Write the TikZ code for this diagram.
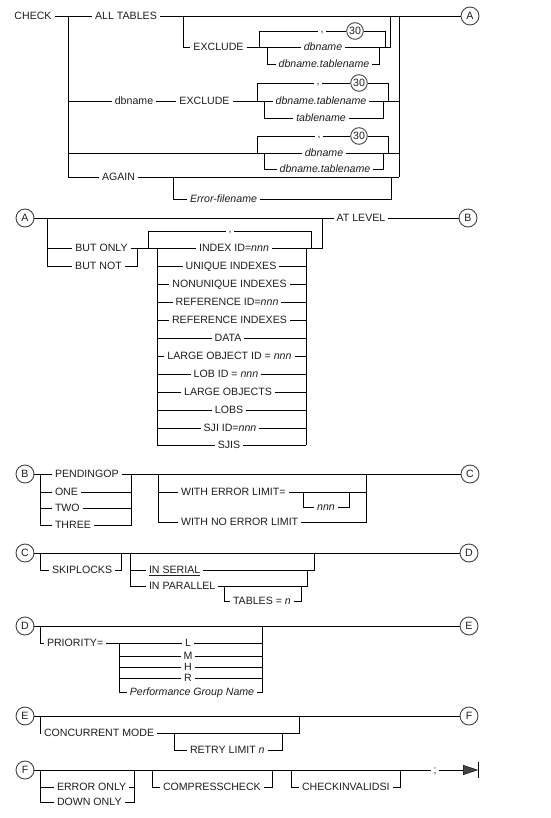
\documentclass[tikz,border=0pt]{standalone}
\usepackage{fontspec}
\setmainfont{Liberation Sans}
\usetikzlibrary{arrows.meta,backgrounds}
\definecolor{tc}{HTML}{1e1e1e}
\definecolor{lc}{HTML}{444444}
\newcommand\fsz{\fontsize{10.6}{12}\selectfont}
\begin{document}
\begin{tikzpicture}[x=1pt,y=-1pt,
  txt/.style={text=tc,font=\fsz,fill=white,inner xsep=3pt,inner ysep=2.5pt,outer sep=0pt,text height=7.6pt,text depth=0pt},
  txti/.style={txt,font=\fsz\itshape},
  commanode/.style={txt,anchor=base},
  lne/.style={draw=lc,line width=0.9pt},
  connc/.style={circle,draw=lc,line width=0.9pt,fill=white,text=tc,font=\fsz,minimum size=18pt,inner sep=0pt},
  repc/.style={connc,minimum size=16.6pt}]
\useasboundingbox (0,0) rectangle (550,818);
% ---------- section 1 ----------
\node[txt] (check) at (33,16) {CHECK};
\node[txt] (alltab) at (126,16) {ALL TABLES};
\node[connc] (cA1) at (470,16) {A};
\node[txt] (exc1) at (218.5,47) {EXCLUDE};
\node[commanode] (cm1) at (322,33) {,};
\node[repc] (r1) at (355,31) {30};
\node[txti] (dbn1) at (323,47) {dbname};
\node[txti] (dbt1) at (324,64) {dbname.tablename};
\node[txt] (dbn2) at (134,101) {dbname};
\node[txt] (exc2) at (204.5,101) {EXCLUDE};
\node[commanode] (cm2) at (318,85) {,};
\node[repc] (r2) at (359,83) {30};
\node[txti] (dbt2) at (321,101) {dbname.tablename};
\node[txti] (tbn2) at (321,118) {tablename};
\node[commanode] (cm3) at (319,138) {,};
\node[repc] (r3) at (359,136) {30};
\node[txti] (dbn3) at (324,153) {dbname};
\node[txti] (dbt3) at (325,169) {dbname.tablename};
\node[txt] (again) at (118.5,177) {AGAIN};
\node[txti] (errf) at (223.5,199) {Error-filename};
% ---------- section 2 ----------
\node[connc] (cA2) at (25,218) {A};
\node[txt] (atlev) at (361,218) {AT LEVEL};
\node[connc] (cB1) at (468,218) {B};
\node[txt] (bonly) at (101.5,248) {BUT ONLY};
\node[txt] (bnot) at (98.5,266) {BUT NOT};
\node[commanode] (cm4) at (230,233) {,};
\node[txt] (i1) at (234,248) {INDEX ID=\textit{nnn}};
\node[txt] (i2) at (231,266) {UNIQUE INDEXES};
\node[txt] (i3) at (229.5,284) {NONUNIQUE INDEXES};
\node[txt] (i4) at (227,302) {REFERENCE ID=\textit{nnn}};
\node[txt] (i5) at (229.5,320) {REFERENCE INDEXES};
\node[txt] (i6) at (228,338) {DATA};
\node[txt] (i7) at (229.5,356) {LARGE OBJECT ID = \textit{nnn}};
\node[txt] (i8) at (226,374) {LOB ID = \textit{nnn}};
\node[txt] (i9) at (228,392) {LARGE OBJECTS};
\node[txt] (i10) at (229,410) {LOBS};
\node[txt] (i11) at (230,428) {SJI ID=\textit{nnn}};
\node[txt] (i12) at (229,445) {SJIS};
\coordinate (Lx) at (157,0);
\coordinate (Rx) at (306,0);
% ---------- section 3 ----------
\node[connc] (cB2) at (25,474) {B};
\node[connc] (cC1) at (470,474) {C};
\node[txt,anchor=west] (pend) at (52,474) {PENDINGOP};
\node[txt,anchor=west] (one) at (52,492) {ONE};
\node[txt,anchor=west] (two) at (52,508) {TWO};
\node[txt,anchor=west] (three) at (52,525) {THREE};
\node[txt,anchor=west] (wel) at (178,492) {WITH ERROR LIMIT=};
\node[txt,anchor=west] (wnel) at (178,522) {WITH NO ERROR LIMIT};
\node[txti] (nnn) at (326,507) {nnn};
% ---------- section 4 ----------
\node[connc] (cC2) at (25,553) {C};
\node[connc] (cD1) at (469,553) {D};
\node[txt,anchor=west] (skip) at (49,570) {SKIPLOCKS};
\node[txt,anchor=west] (inser) at (146,570) {\underline{IN SERIAL}};
\node[txt,anchor=west] (inpar) at (146,586) {IN PARALLEL};
\node[txt,anchor=west] (tabn) at (230,601) {TABLES = \textit{n}};
% ---------- section 5 ----------
\node[connc] (cD2) at (25,626) {D};
\node[connc] (cE1) at (469,626) {E};
\node[txt,anchor=west] (prio) at (44,643) {PRIORITY=};
\node[txt] (pL) at (188,643) {L};
\node[txt] (pM) at (188,656) {M};
\node[txt] (pH) at (188,667) {H};
\node[txt] (pR) at (188,678) {R};
\node[txti] (pgn) at (192,692) {Performance Group Name};
% ---------- section 6 ----------
\node[connc] (cE2) at (25,716) {E};
\node[connc] (cF1) at (469,716) {F};
\node[txt,anchor=west] (conc) at (41,733) {CONCURRENT MODE};
\node[txt,anchor=west] (retry) at (187,750) {RETRY LIMIT \textit{n}};
% ---------- section 7 ----------
\node[connc] (cF2) at (25,770) {F};
\node[txt,anchor=west] (eo) at (54,787) {ERROR ONLY};
\node[txt,anchor=west] (dn) at (54,802) {DOWN ONLY};
\node[txt,anchor=west] (cc) at (160,787) {COMPRESSCHECK};
\node[txt,anchor=west] (ci) at (299,787) {CHECKINVALIDSI};
\node[commanode] (semi) at (435,773) {;};
\coordinate (endp) at (478,770);

\begin{scope}[on background layer,lne]
% section 1
\draw (check.east) -- (alltab.west);
\draw (alltab.east) -- (cA1.west);
\draw (68,16) -- (68,177);
\draw (399,16) -- (399,177);
\draw (183,16) -- (183,47) -- (exc1.west);
\draw (exc1.east) -- (dbn1.west);
\draw (dbn1.east) -- (390,47) -- (390,16);
\draw (259,47) -- (259,31) -- (r1.west);
\draw (r1.east) -- (385,31) -- (385,47);
\draw (267,47) -- (267,64) -- (dbt1.west);
\draw (dbt1.east) -- (379,64) -- (379,47);
\draw (68,101) -- (dbn2.west);
\draw (dbn2.east) -- (exc2.west);
\draw (exc2.east) -- (dbt2.west);
\draw (dbt2.east) -- (399,101);
\draw (257,101) -- (257,83) -- (r2.west);
\draw (r2.east) -- (388,83) -- (388,101);
\draw (264,101) -- (264,118) -- (tbn2.west);
\draw (tbn2.east) -- (383,118) -- (383,101);
\draw (68,153) -- (dbn3.west);
\draw (dbn3.east) -- (399,153);
\draw (257,153) -- (257,136) -- (r3.west);
\draw (r3.east) -- (388,136) -- (388,153);
\draw (264,153) -- (264,169) -- (dbt3.west);
\draw (dbt3.east) -- (383,169) -- (383,153);
\draw (68,177) -- (again.west);
\draw (again.east) -- (399,177);
\draw (173,177) -- (173,199) -- (errf.west);
\draw (errf.east) -- (391,199) -- (391,177);
% section 2
\draw (cA2.east) -- (atlev.west);
\draw (atlev.east) -- (cB1.west);
\draw (47,218) -- (47,266) -- (bnot.west);
\draw (47,248) -- (bonly.west);
\draw (bonly.east) -- (157,248);
\draw (bnot.east) -- (137,266) -- (137,248);
\draw (148,248) -- (148,231) -- (311,231) -- (311,248);
\draw (157,248) -- (157,445);
\draw (306,248) -- (306,445);
\draw (306,248) -- (322,248) -- (322,218);
\foreach \i in {1,...,12}
  \draw (i\i.west -| Lx) -- (i\i.west) (i\i.east) -- (i\i.east -| Rx);
% section 3
\draw (cB2.east) -- (cC1.west);
\draw (40,474) -- (40,525) -- (three.west);
\draw (40,492) -- (one.west);
\draw (40,508) -- (two.west);
\draw (one.east) -- (131,492);
\draw (two.east) -- (131,508);
\draw (three.east) -- (131,525) -- (131,474);
\draw (158,474) -- (158,522) -- (wnel.west);
\draw (158,492) -- (wel.west);
\draw (wel.east) -- (366,492);
\draw (wnel.east) -- (366,522) -- (366,474);
\draw (303,492) -- (303,507) -- (nnn.west);
\draw (nnn.east) -- (349,507) -- (349,492);
% section 4
\draw (cC2.east) -- (cD1.west);
\draw (40,553) -- (40,570) -- (skip.west);
\draw (skip.east) -- (121,570) -- (121,553);
\draw (130,553) -- (130,586) -- (inpar.west);
\draw (130,570) -- (inser.west);
\draw (inser.east) -- (314,570) -- (314,553);
\draw (inpar.east) -- (307,586) -- (307,570);
\draw (224,586) -- (224,601) -- (tabn.west);
\draw (tabn.east) -- (301,601) -- (301,586);
% section 5
\draw (cD2.east) -- (cE1.west);
\draw (40,626) -- (40,643) -- (prio.west);
\draw (prio.east) -- (pL.west);
\draw (119,643) -- (119,692) -- (pgn.west);
\draw (119,656) -- (pM.west);
\draw (119,667) -- (pH.west);
\draw (119,678) -- (pR.west);
\draw (pL.east) -- (262,643);
\draw (pM.east) -- (262,656);
\draw (pH.east) -- (262,667);
\draw (pR.east) -- (262,678);
\draw (pgn.east) -- (262,692) -- (262,626);
% section 6
\draw (cE2.east) -- (cF1.west);
\draw (40,716) -- (40,733) -- (conc.west);
\draw (conc.east) -- (299,733) -- (299,716);
\draw (174,733) -- (174,750) -- (retry.west);
\draw (retry.east) -- (282,750) -- (282,733);
% section 7
\draw (cF2.east) -- (semi.west |- endp);
\draw[-{Triangle[length=15pt,width=10pt]}] (semi.east |- endp) -- (endp);
\draw (478,762) -- (478,778);
\draw (40,770) -- (40,802) -- (dn.west);
\draw (40,787) -- (eo.west);
\draw (eo.east) -- (134,787);
\draw (dn.east) -- (134,802) -- (134,770);
\draw (152,770) -- (152,787) -- (cc.west);
\draw (cc.east) -- (272,787) -- (272,770);
\draw (291,770) -- (291,787) -- (ci.west);
\draw (ci.east) -- (400,787) -- (400,770);
\end{scope}
\end{tikzpicture}
\end{document}
